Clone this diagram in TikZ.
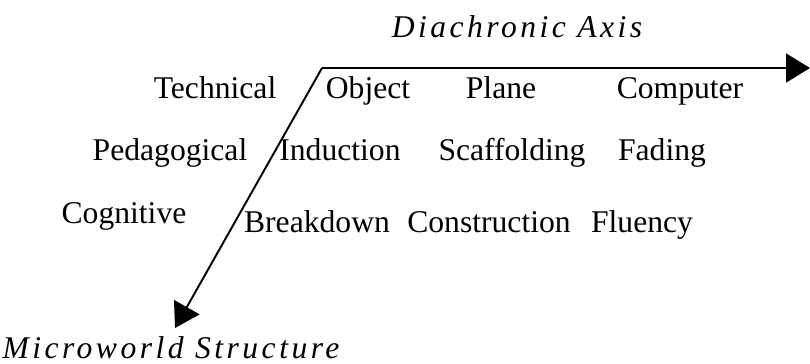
\documentclass[tikz,border=0pt]{standalone}
\usepackage{fontspec}
\setmainfont{Liberation Serif}
\newfontfamily\axisfont[LetterSpace=11]{Liberation Serif}
\usepackage{tikz}
\usetikzlibrary{arrows.meta}
\tikzset{
  cell/.style   ={inner sep=0pt, anchor=base, font=\fontsize{18}{20}\selectfont},
  rowlab/.style ={inner sep=0pt, anchor=base, font=\fontsize{18}{20}\selectfont},
  axlbl/.style  ={inner sep=0pt, anchor=base, font=\fontsize{18}{20}\axisfont\itshape},
  axis/.style   ={-{Triangle[length=4.8mm, width=5.8mm]}, line width=1.1pt},
}
\begin{document}
\begin{tikzpicture}[x=0.02cm, y=-0.02cm]
  \useasboundingbox (0,0) rectangle (810,363);
  % the two axes
  \coordinate (orig) at (322,68);
  \coordinate (tend) at (810,68);
  \coordinate (send) at (175,328);
  \draw[axis] (orig) -- (tend);
  \draw[axis] (orig) -- (send);
  \node[axlbl] (dia) at (517,37) {Diachronic Axis};
  \node[axlbl] (mws) at (171,358) {Microworld Structure};
  % rows
  \node[rowlab] (tech) at (215,98)  {Technical};
  \node[rowlab] (peda) at (170,160) {Pedagogical};
  \node[rowlab] (cogn) at (124,223) {Cognitive};
  % cells
  \node[cell] (obj)  at (368,98)  {Object};
  \node[cell] (pla)  at (501,98)  {Plane};
  \node[cell] (comp) at (680,98)  {Computer};
  \node[cell] (ind)  at (340,160) {Induction};
  \node[cell] (scaf) at (512,160) {Scaffolding};
  \node[cell] (fad)  at (662,160) {Fading};
  \node[cell] (brk)  at (317,232) {Breakdown};
  \node[cell] (cons) at (489,232) {Construction};
  \node[cell] (flu)  at (642,232) {Fluency};
\end{tikzpicture}
\end{document}
